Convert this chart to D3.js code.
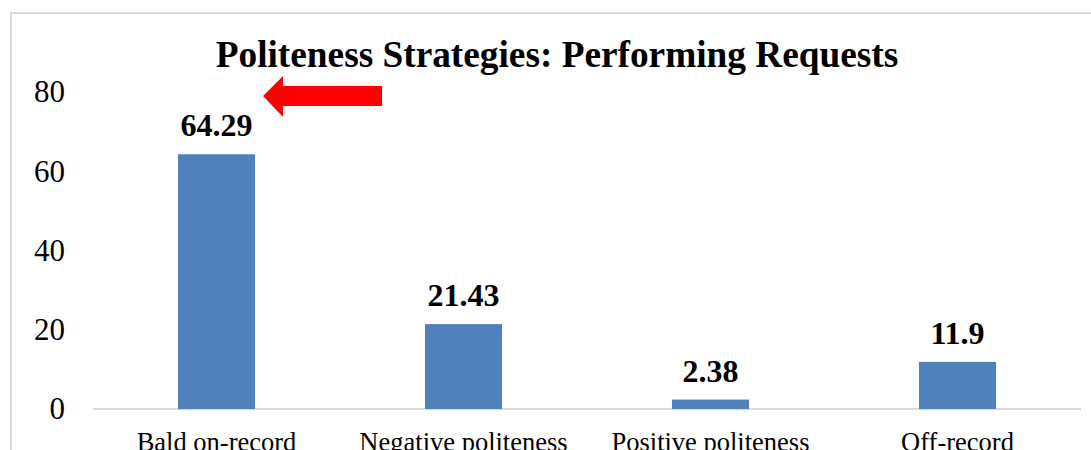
<!DOCTYPE html>
<html>
<head>
<meta charset="utf-8">
<script src="https://cdn.jsdelivr.net/npm/d3@7"></script>
<style>
  body { margin: 0; background: #fff; }
  svg { display: block; }
  text { font-family: "Liberation Serif", "Times New Roman", serif; fill: #000; }
</style>
</head>
<body>
<div id="wrapper"></div>
<script>
const categories = ["Bald on-record", "Negative politeness", "Positive politeness", "Off-record"];
const values = [64.29, 21.43, 2.38, 11.9];
const yTicks = [0, 20, 40, 60, 80];
const title = "Politeness Strategies: Performing Requests";

const width = 1091, height = 450;
const margin = { top: 92, right: 10, bottom: 41, left: 93 };

const svg = d3.select("#wrapper")
    .append("svg")
    .attr("width", width)
    .attr("height", height);

// chart frame
svg.append("rect")
    .attr("x", 11).attr("y", 13)
    .attr("width", width + 20).attr("height", height + 20)
    .attr("fill", "none")
    .attr("stroke", "#d9d9d9")
    .attr("stroke-width", 2);

const x = d3.scaleBand()
    .domain(categories)
    .range([margin.left, width - margin.right])
    .paddingInner(0.688)
    .paddingOuter(0.344);

const y = d3.scaleLinear()
    .domain([0, 80])
    .range([height - margin.bottom, margin.top]);

// y tick labels (no axis line)
const yAxis = svg.append("g")
    .attr("transform", `translate(${margin.left},0)`)
    .call(d3.axisLeft(y).tickValues(yTicks).tickSize(0).tickPadding(28));
yAxis.select(".domain").remove();
yAxis.selectAll("text")
    .style("font-family", "Liberation Serif, Times New Roman, serif")
    .style("font-size", "31px")
    .attr("fill", "#000");

// baseline
svg.append("line")
    .attr("x1", margin.left).attr("x2", width - margin.right)
    .attr("y1", y(0)).attr("y2", y(0))
    .attr("stroke", "#d9d9d9")
    .attr("stroke-width", 2);

// bars
svg.append("g")
    .selectAll("rect")
    .data(values)
    .enter()
    .append("rect")
    .attr("x", (d, i) => x(categories[i]))
    .attr("y", d => y(d))
    .attr("width", x.bandwidth())
    .attr("height", d => y(0) - y(d))
    .attr("fill", "#4f81bd");

// value labels
svg.append("g")
    .selectAll("text")
    .data(values)
    .enter()
    .append("text")
    .attr("x", (d, i) => x(categories[i]) + x.bandwidth() / 2)
    .attr("y", d => y(d) - 18)
    .attr("text-anchor", "middle")
    .style("font-size", "32px")
    .style("font-weight", "bold")
    .text(d => d);

// category labels (cut by the bottom edge, as in the source image)
svg.append("g")
    .selectAll("text")
    .data(categories)
    .enter()
    .append("text")
    .attr("x", d => x(d) + x.bandwidth() / 2)
    .attr("y", y(0) + 42)
    .attr("text-anchor", "middle")
    .style("font-size", "26.5px")
    .text(d => d);

// title
svg.append("text")
    .attr("x", 557)
    .attr("y", 67)
    .attr("text-anchor", "middle")
    .style("font-size", "37.3px")
    .style("font-weight", "bold")
    .text(title);

// red arrow pointing at the first value label
const tipX = x(categories[0]) + x.bandwidth() + 8;
const tipY = y(80) + 4;
svg.append("path")
    .attr("d", `M${tipX},${tipY} L${tipX + 20},${tipY - 20} L${tipX + 20},${tipY - 10}
                L${tipX + 119},${tipY - 10} L${tipX + 119},${tipY + 10}
                L${tipX + 20},${tipY + 10} L${tipX + 20},${tipY + 21} Z`)
    .attr("fill", "#ff0000");
</script>
</body>
</html>
